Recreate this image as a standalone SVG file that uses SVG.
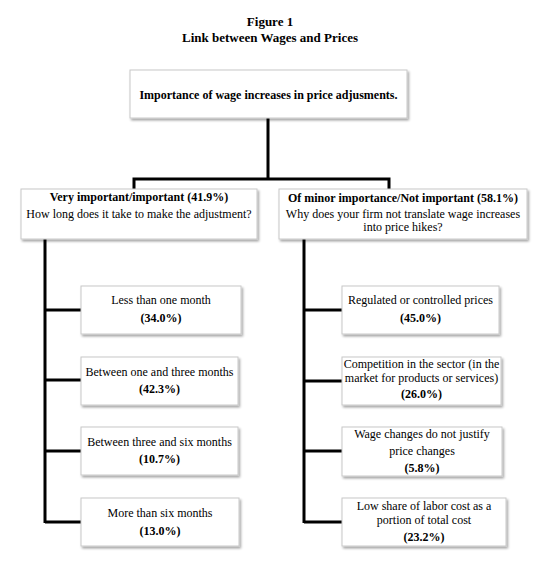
<svg xmlns="http://www.w3.org/2000/svg" width="542" height="573" viewBox="0 0 542 573">
<defs>
<filter id="sh" x="-5%" y="-10%" width="115%" height="130%">
<feDropShadow dx="1.5" dy="2" stdDeviation="1" flood-color="#000" flood-opacity="0.35"/>
</filter>
<style>
.box{fill:#fff;stroke:#c8c8c8;stroke-width:1;filter:url(#sh)}
text{font-family:"Liberation Serif","Times New Roman",serif;font-size:12px;fill:#000;text-anchor:middle}
.b{font-weight:bold}
.t{font-size:13px;font-weight:bold}
.c{fill:none;stroke:#000;stroke-width:3}
</style>
</defs>
<rect width="542" height="573" fill="#fff"/>
<text class="t" x="270" y="26">Figure 1</text>
<text class="t" x="270" y="42">Link between Wages and Prices</text>
<g id="connectors">
<path class="c" d="M268,118 V179 M134,189 V179 H389 V189"/>
<path class="c" d="M45,239 V523 M45,310 H81 M45,380 H81 M45,451 H81 M45,522 H81"/>
<path class="c" d="M304,239 V523 M304,310 H342 M304,381 H342 M304,451 H342 M304,522 H342"/>
</g>
<g id="root"><rect class="box" x="130" y="70" width="277" height="48"/>
<text class="b" x="268.5" y="99">Importance of wage increases in price adjusments.</text></g>
<g id="left"><rect class="box" x="21" y="189" width="236" height="50"/>
<text class="b" x="139" y="201">Very important/important (41.9%)</text>
<text x="139" y="218">How long does it take to make the adjustment?</text></g>
<g id="right"><rect class="box" x="279" y="189" width="248" height="50"/>
<text class="b" x="403" y="202">Of minor importance/Not important (58.1%)</text>
<text x="403" y="218">Why does your firm not translate wage increases</text>
<text x="403" y="231">into price hikes?</text></g>
<g id="l1"><rect class="box" x="81" y="286" width="160" height="48"/>
<text x="161" y="304">Less than one month</text><text class="b" x="161" y="322">(34.0%)</text></g>
<g id="l2"><rect class="box" x="81" y="357" width="157" height="48"/>
<text x="159.5" y="376">Between one and three months</text><text class="b" x="159.5" y="393">(42.3%)</text></g>
<g id="l3"><rect class="box" x="81" y="427" width="157" height="48"/>
<text x="159.5" y="446">Between three and six months</text><text class="b" x="159.5" y="463">(10.7%)</text></g>
<g id="l4"><rect class="box" x="81" y="498" width="158" height="48"/>
<text x="160" y="517">More than six months</text><text class="b" x="160" y="535">(13.0%)</text></g>
<g id="r1"><rect class="box" x="342" y="286" width="157" height="48"/>
<text x="420.5" y="304">Regulated or controlled prices</text><text class="b" x="420.5" y="322">(45.0%)</text></g>
<g id="r2"><rect class="box" x="342" y="357" width="159" height="48"/>
<text x="421.5" y="368">Competition in the sector (in the</text>
<text x="421.5" y="382">market for products or services)</text>
<text class="b" x="421.5" y="398">(26.0%)</text></g>
<g id="r3"><rect class="box" x="342" y="427" width="160" height="49"/>
<text x="422" y="438">Wage changes do not justify</text>
<text x="422" y="455">price changes</text>
<text class="b" x="422" y="472">(5.8%)</text></g>
<g id="r4"><rect class="box" x="342" y="498" width="164" height="48"/>
<text x="424" y="510">Low share of labor cost as a</text>
<text x="424" y="524">portion of total cost</text>
<text class="b" x="424" y="541">(23.2%)</text></g>
</svg>
